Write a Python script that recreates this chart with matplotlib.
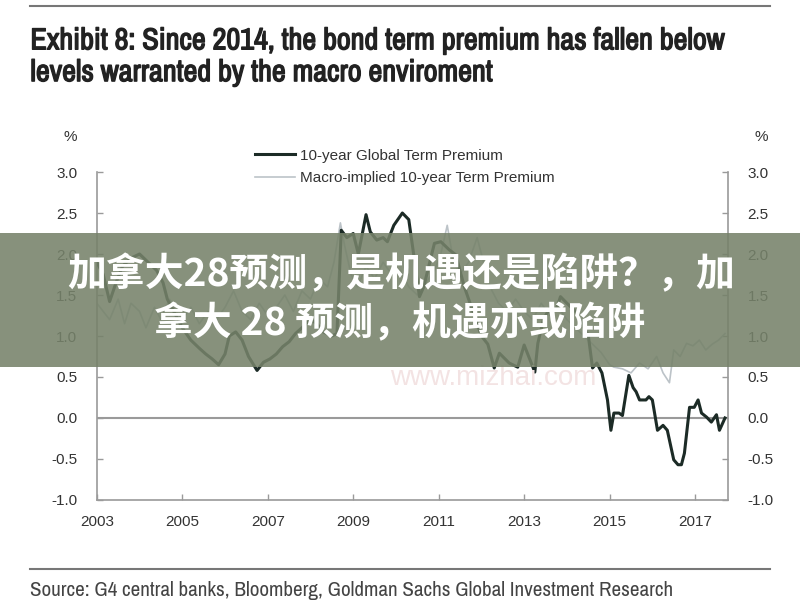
import matplotlib
matplotlib.use("Agg")
import matplotlib.pyplot as plt
import matplotlib.patheffects as pe
from matplotlib.patches import Rectangle
from matplotlib.lines import Line2D
from matplotlib import font_manager

# =========================
# data
# =========================
tp_year = [2003.0, 2003.15, 2003.3, 2003.45, 2003.6, 2003.8, 2004.0, 2004.2, 2004.4, 2004.55,
           2004.65, 2004.8, 2005.0, 2005.2, 2005.4, 2005.55, 2005.7, 2005.85, 2006.0, 2006.1,
           2006.25, 2006.4, 2006.55, 2006.75, 2006.9, 2007.05, 2007.2, 2007.35, 2007.5, 2007.65,
           2007.8, 2008.0, 2008.15, 2008.3, 2008.5, 2008.62, 2008.72, 2008.85, 2009.0, 2009.12,
           2009.3, 2009.4, 2009.55, 2009.7, 2009.8, 2009.95, 2010.15, 2010.3, 2010.4, 2010.55,
           2010.65, 2010.9, 2011.05, 2011.25, 2011.4, 2011.6, 2011.8, 2012.0, 2012.15, 2012.3,
           2012.42, 2012.65, 2012.85, 2013.0, 2013.25, 2013.32, 2013.45, 2013.6, 2013.75, 2013.85,
           2014.0, 2014.2, 2014.4, 2014.5, 2014.6, 2014.7, 2014.82, 2014.95, 2015.03, 2015.1,
           2015.22, 2015.3, 2015.45, 2015.55, 2015.62, 2015.7, 2015.85, 2015.92, 2016.0, 2016.12,
           2016.25, 2016.35, 2016.5, 2016.6, 2016.68, 2016.75, 2016.87, 2016.98, 2017.07, 2017.15,
           2017.27, 2017.38, 2017.5, 2017.57, 2017.7]
tp_value = [1.9, 1.75, 1.42, 1.65, 1.85, 1.95, 2.0, 1.9, 1.8, 1.65,
            1.45, 1.3, 1.1, 0.95, 0.85, 0.78, 0.72, 0.65, 0.78, 1.0,
            1.05, 0.95, 0.75, 0.58, 0.68, 0.72, 0.78, 0.87, 0.93, 1.03,
            1.1, 1.2, 1.15, 1.05, 1.0, 1.03, 2.29, 2.2, 2.25, 2.0,
            2.48, 2.27, 2.17, 2.2, 2.15, 2.35, 2.5, 2.42, 2.05, 1.48,
            1.6, 2.13, 2.15, 2.05, 1.99, 1.6, 1.3, 1.0, 0.9, 0.61,
            0.79, 0.67, 0.62, 0.89, 0.56, 0.91, 1.2, 1.34, 1.32, 1.48,
            1.4, 1.3, 1.1, 1.01, 0.61, 0.67, 0.55, 0.22, -0.15, 0.06,
            0.06, 0.03, 0.52, 0.37, 0.32, 0.22, 0.22, 0.26, 0.22, -0.15,
            -0.09, -0.15, -0.51, -0.57, -0.57, -0.43, 0.13, 0.13, 0.22, 0.06,
            0.01, -0.05, 0.04, -0.15, 0.0]

macro_year = [2003.0, 2003.15, 2003.3, 2003.5, 2003.65, 2003.8, 2004.0, 2004.15, 2004.35, 2004.5,
              2004.7, 2004.85, 2005.0, 2005.2, 2005.4, 2005.6, 2005.8, 2006.0, 2006.2, 2006.4,
              2006.6, 2006.8, 2007.0, 2007.2, 2007.4, 2007.6, 2007.8, 2008.0, 2008.2, 2008.4,
              2008.55, 2008.7, 2008.8, 2008.95, 2009.1, 2009.3, 2009.5, 2009.7, 2009.9, 2010.1,
              2010.3, 2010.5, 2010.7, 2010.9, 2011.05, 2011.2, 2011.35, 2011.5, 2011.7, 2011.9,
              2012.05, 2012.2, 2012.4, 2012.6, 2012.8, 2013.0, 2013.2, 2013.4, 2013.6, 2013.8,
              2014.0, 2014.2, 2014.4, 2014.6, 2014.8, 2015.0, 2015.1, 2015.3, 2015.5, 2015.7,
              2015.9, 2016.1, 2016.25, 2016.4, 2016.5, 2016.65, 2016.8, 2016.95, 2017.1, 2017.25,
              2017.4, 2017.55, 2017.7]
macro_value = [1.4, 1.3, 1.2, 1.45, 1.15, 1.4, 1.3, 1.1, 1.35, 1.2,
               1.45, 1.3, 1.2, 1.35, 1.15, 1.3, 1.2, 1.35, 1.55, 1.3,
               1.2, 1.4, 1.25, 1.35, 1.5, 1.3, 1.55, 1.45, 1.7, 1.6,
               1.9, 2.38, 2.1, 1.75, 1.6, 1.85, 1.7, 1.9, 1.75, 1.8,
               1.6, 1.5, 1.65, 1.8, 2.0, 2.35, 1.9, 1.75, 1.9, 2.2,
               1.9, 1.6, 1.4, 1.3, 1.45, 1.3, 1.2, 1.4, 1.25, 1.35,
               1.2, 1.1, 1.0, 0.9, 0.8, 0.65, 0.62, 0.6, 0.55, 0.67,
               0.6, 0.75, 0.55, 0.43, 0.83, 0.75, 0.91, 0.88, 0.95, 0.83,
               0.9, 0.95, 1.03]

year_ticks = [2003, 2005, 2007, 2009, 2011, 2013, 2015, 2017]
pct_ticks = [-1.0, -0.5, 0.0, 0.5, 1.0, 1.5, 2.0, 2.5, 3.0]

TITLE_1 = "Exhibit 8: Since 2014, the bond term premium has fallen below"
TITLE_2 = "levels warranted by the macro enviroment"
SOURCE = "Source: G4 central banks, Bloomberg, Goldman Sachs Global Investment Research"
BANNER_1 = "加拿大28预测，是机遇还是陷阱？，加"
BANNER_2 = "拿大 28 预测，机遇亦或陷阱"

DARK = "#1c2b26"
LIGHT = "#bcc3c8"
AXIS = "#9a9a9a"
TEXT = "#333333"

plt.rcParams["font.family"] = ["Liberation Sans", "DejaVu Sans"]

# condensed face for title / source
cond = [f.name for f in font_manager.fontManager.ttflist if "ondensed" in f.name or "Narrow" in f.name]
COND = sorted(set(cond))[0] if cond else "Liberation Sans"

# =========================
# figure
# =========================
fig = plt.figure(figsize=(8, 6), dpi=100)
ax = fig.add_axes([0.121, 0.1667, 0.789, 0.5466])

ax.plot(macro_year, macro_value, color=LIGHT, lw=1.2, zorder=2)
ax.plot(tp_year, tp_value, color=DARK, lw=2.2, zorder=3)
ax.axhline(0, color=AXIS, lw=1.5, zorder=1)

ax.set_xlim(2003, 2017.77)
ax.set_ylim(-1, 3)
ax.set_xticks(year_ticks)
ax.set_yticks(pct_ticks)
ax.set_yticklabels([f"{v:.1f}" for v in pct_ticks])

ax.spines["top"].set_visible(False)
for s in ["left", "right", "bottom"]:
    ax.spines[s].set_color(AXIS)
    ax.spines[s].set_linewidth(1.2)
ax.tick_params(axis="both", colors=AXIS, labelcolor=TEXT, labelsize=11, length=4, width=1)
ax.tick_params(axis="y", right=True, labelright=True, direction="in")
ax.tick_params(axis="y", pad=14)
ax.tick_params(axis="x", direction="in", pad=11)

fig.text(0.088, 0.772, "%", fontsize=11, color=TEXT, ha="center", va="center")
fig.text(0.952, 0.772, "%", fontsize=11, color=TEXT, ha="center", va="center")

handles = [Line2D([], [], color=DARK, lw=2.2), Line2D([], [], color=LIGHT, lw=1.2)]
fig.legend(handles, ["10-year Global Term Premium", "Macro-implied 10-year Term Premium"],
           loc="upper left", bbox_to_anchor=(0.302, 0.775), frameon=False, fontsize=11,
           handlelength=2.6, handletextpad=0.3, labelspacing=0.55, labelcolor=TEXT)

# title / source with rules (stroke to fake the heavy weight)
heavy = [pe.withStroke(linewidth=1.0, foreground="#222222")]
fig.add_artist(Line2D([0.038, 0.962], [0.99, 0.99], color="#777777", lw=1.5))
fig.text(0.038, 0.932, TITLE_1, fontsize=21.8, family=[COND, "DejaVu Sans"], fontweight="bold",
         color="#222222", va="center", path_effects=heavy)
fig.text(0.038, 0.879, TITLE_2, fontsize=21.8, family=[COND, "DejaVu Sans"], fontweight="bold",
         color="#222222", va="center", path_effects=heavy)
fig.add_artist(Line2D([0.038, 0.962], [0.051, 0.051], color="#777777", lw=1.5))
fig.text(0.038, 0.015, SOURCE, fontsize=15.2, family=[COND, "DejaVu Sans"], color="#444444",
         va="center")

# watermark
fig.text(0.488, 0.37, "www.mizhai.com", fontsize=20, color="#f3e3e3", ha="left", va="center", zorder=0)

# overlay banner
fig.add_artist(Rectangle((0, 0.388), 1, 0.223, transform=fig.transFigure,
                         facecolor="#76826a", alpha=0.88, edgecolor="none", zorder=10))
fig.text(0.502, 0.543, BANNER_1, fontsize=28, fontweight="bold", color="white",
         family=["Noto Sans CJK SC", "DejaVu Sans"], ha="center", va="center", zorder=11)
fig.text(0.5, 0.46, BANNER_2, fontsize=28, fontweight="bold", color="white",
         family=["Noto Sans CJK SC", "DejaVu Sans"], ha="center", va="center", zorder=11)

fig.savefig("out.png", dpi=100)
